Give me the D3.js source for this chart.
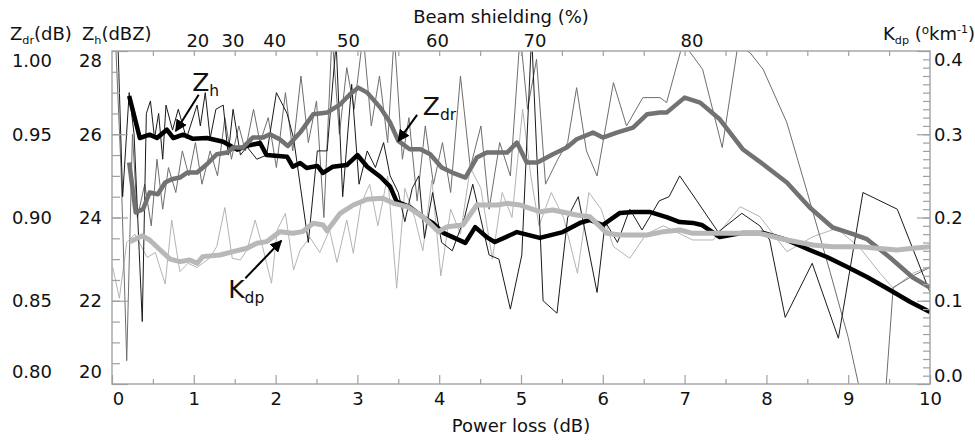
<!DOCTYPE html>
<html>
<head>
<meta charset="utf-8">
<script src="https://cdn.jsdelivr.net/npm/d3@7"></script>
<style>
  body { margin: 0; background: #fff; }
  text { font-family: "DejaVu Sans", sans-serif; fill: #111; }
</style>
</head>
<body>
<figure id="chart" style="margin:0"></figure>
<script>
// ---- data: [power loss (dB), value] ----
// smoothed curves
const zhSmooth = [[0.21,26.92],[0.34,25.91],[0.46,25.99],[0.55,25.91],[0.67,26.11],[0.75,25.91],[0.87,25.99],[0.99,25.89],
  [1.16,25.91],[1.36,25.82],[1.53,25.63],[1.65,25.72],[1.81,25.79],[1.89,25.50],[2.14,25.46],[2.21,25.22],[2.30,25.31],
  [2.38,25.19],[2.51,25.24],[2.58,25.07],[2.70,25.22],[2.87,25.26],[3.00,25.50],[3.12,25.22],[3.28,24.98],[3.40,24.74],
  [3.48,24.38],[3.64,24.25],[3.80,24.01],[3.92,23.87],[4.05,23.63],[4.32,23.39],[4.44,23.77],[4.58,23.53],[4.68,23.41],
  [4.95,23.65],[5.23,23.51],[5.51,23.65],[5.72,23.87],[5.84,23.94],[6.00,23.82],[6.21,24.11],[6.37,24.13],[6.58,24.13],
  [6.78,24.01],[6.94,23.89],[7.10,23.87],[7.21,23.82],[7.43,23.53],[7.71,23.63],[7.96,23.63],[8.25,23.46],[8.53,23.22],
  [8.74,23.05],[8.99,22.81],[9.23,22.57],[9.51,22.26],[9.76,21.97],[10.0,21.73]];

const zdrSmooth = [[0.21,0.933],[0.29,0.903],[0.38,0.905],[0.46,0.915],[0.56,0.914],[0.65,0.921],[0.73,0.923],[0.83,0.924],
  [0.92,0.927],[1.04,0.927],[1.16,0.932],[1.28,0.938],[1.41,0.939],[1.48,0.942],[1.60,0.942],[1.72,0.948],[1.85,0.948],
  [1.93,0.950],[2.05,0.947],[2.15,0.943],[2.30,0.951],[2.46,0.962],[2.63,0.963],[2.79,0.968],[2.91,0.974],[3.01,0.978],
  [3.12,0.975],[3.28,0.966],[3.40,0.957],[3.50,0.946],[3.64,0.941],[3.77,0.941],[3.89,0.938],[4.03,0.930],[4.16,0.927],
  [4.32,0.924],[4.46,0.936],[4.58,0.939],[4.83,0.939],[4.95,0.945],[5.07,0.933],[5.20,0.933],[5.39,0.938],[5.56,0.942],
  [5.68,0.947],[5.88,0.951],[6.00,0.948],[6.17,0.951],[6.37,0.954],[6.54,0.962],[6.70,0.963],[6.78,0.963],[7.00,0.972],
  [7.19,0.969],[7.43,0.959],[7.71,0.941],[7.96,0.932],[8.25,0.921],[8.53,0.906],[8.81,0.894],[9.06,0.890],[9.23,0.887],
  [9.51,0.876],[9.79,0.864],[10.0,0.858]];

const kdpSmooth = [[0.22,0.171],[0.37,0.178],[0.46,0.173],[0.59,0.161],[0.71,0.150],[0.83,0.147],[0.95,0.149],[1.04,0.145],
  [1.11,0.153],[1.32,0.155],[1.48,0.159],[1.65,0.163],[1.77,0.169],[1.89,0.171],[2.05,0.183],[2.21,0.181],[2.33,0.183],
  [2.46,0.193],[2.58,0.191],[2.63,0.184],[2.79,0.205],[2.95,0.215],[3.12,0.222],[3.31,0.223],[3.44,0.217],[3.61,0.213],
  [3.80,0.201],[3.99,0.183],[4.10,0.189],[4.29,0.191],[4.46,0.215],[4.71,0.215],[4.83,0.217],[4.99,0.215],[5.23,0.207],
  [5.39,0.209],[5.68,0.203],[5.84,0.201],[6.05,0.181],[6.21,0.179],[6.54,0.179],[6.74,0.183],[6.94,0.185],[7.10,0.181],
  [7.47,0.181],[7.92,0.181],[8.25,0.173],[8.57,0.167],[8.81,0.165],[9.14,0.165],[9.60,0.161],[9.79,0.163],[10.0,0.165]];

// raw (unsmoothed) curves
const zhRaw = [[0.06,29.0],[0.13,24.5],[0.21,27.0],[0.27,26.0],[0.37,21.5],[0.42,26.5],[0.47,26.8],[0.52,25.9],[0.57,26.5],
  [0.62,25.4],[0.66,26.7],[0.74,26.1],[0.81,26.6],[0.91,25.9],[1.04,26.7],[1.08,26.2],[1.14,27.0],[1.20,25.9],[1.27,26.6],
  [1.36,26.7],[1.42,25.5],[1.48,26.6],[1.57,25.5],[1.65,25.7],[1.77,25.4],[1.89,25.5],[2.01,27.0],[2.14,26.5],[2.22,25.9],
  [2.40,23.4],[2.51,25.6],[2.63,25.6],[2.74,28.2],[2.82,24.5],[2.93,27.2],[3.02,24.8],[3.12,25.6],[3.22,25.2],[3.32,25.8],
  [3.40,25.0],[3.50,24.6],[3.58,23.9],[3.67,24.7],[3.75,25.0],[3.82,23.5],[3.92,24.6],[4.03,23.4],[4.16,23.2],[4.31,24.0],
  [4.41,24.8],[4.61,23.1],[4.73,23.0],[4.87,21.8],[5.01,23.1],[5.13,28.4],[5.27,22.0],[5.44,21.7],[5.57,24.0],[5.70,24.5],
  [5.93,22.2],[6.03,23.9],[6.18,23.4],[6.33,24.2],[6.48,23.7],[6.69,24.4],[6.81,24.5],[6.94,25.0],[7.15,24.4],[7.41,23.65],
  [7.70,24.1],[7.92,23.8],[8.04,23.46],[8.23,21.6],[8.56,22.9],[8.88,21.1],[9.18,24.6],[9.60,24.2],[10.0,22.2]];

const zdrRaw = [[0.04,1.01],[0.11,0.93],[0.18,0.814],[0.25,0.95],[0.31,0.90],[0.40,0.92],[0.48,0.895],[0.55,0.935],
  [0.62,0.905],[0.69,0.93],[0.78,0.915],[0.86,0.94],[0.94,0.925],[1.02,0.945],[1.10,0.92],[1.20,0.94],[1.29,0.925],
  [1.38,0.96],[1.46,0.935],[1.55,0.955],[1.63,0.94],[1.73,0.965],[1.81,0.945],[1.91,0.96],[2.01,0.93],[2.12,0.975],
  [2.21,0.94],[2.31,0.985],[2.40,0.945],[2.50,0.97],[2.59,0.90],[2.69,1.01],[2.78,0.95],[2.87,0.99],[2.96,0.965],
  [3.07,1.01],[3.17,0.955],[3.27,0.985],[3.37,0.945],[3.45,1.01],[3.55,0.935],[3.63,0.96],[3.73,0.91],[3.83,0.955],
  [3.93,0.92],[4.04,0.945],[4.14,0.915],[4.26,0.985],[4.38,0.93],[4.51,0.955],[4.61,0.905],[4.74,0.945],[4.87,0.925],
  [4.99,1.01],[5.08,0.965],[5.19,0.995],[5.30,0.92],[5.45,0.935],[5.57,0.945],[5.68,0.978],[5.80,0.94],[5.93,0.925],
  [6.13,0.981],[6.29,0.955],[6.49,0.972],[6.70,0.972],[6.78,0.969],[6.98,1.005],[7.22,0.989],[7.46,0.942],[7.65,1.003],
  [7.80,0.999],[7.96,0.989],[8.25,0.957],[8.50,0.915],[8.78,0.867],[9.00,0.828],[9.17,0.79],[9.45,0.79],[9.55,0.858],
  [9.79,0.865],[10.0,0.870]];

const kdpRaw = [[0.01,0.14],[0.09,0.103],[0.18,0.17],[0.28,0.18],[0.43,0.152],[0.53,0.158],[0.65,0.12],[0.73,0.197],
  [0.83,0.135],[0.93,0.145],[1.04,0.14],[1.19,0.151],[1.28,0.165],[1.38,0.212],[1.47,0.151],[1.57,0.149],[1.65,0.161],
  [1.75,0.197],[1.84,0.165],[1.95,0.121],[2.02,0.185],[2.12,0.205],[2.22,0.137],[2.30,0.161],[2.42,0.176],[2.54,0.158],
  [2.66,0.185],[2.75,0.146],[2.87,0.197],[2.95,0.157],[3.04,0.215],[3.15,0.24],[3.25,0.19],[3.37,0.25],[3.48,0.115],
  [3.58,0.235],[3.70,0.20],[3.80,0.16],[3.91,0.245],[4.02,0.13],[4.14,0.21],[4.26,0.18],[4.38,0.26],[4.51,0.235],
  [4.65,0.15],[4.77,0.23],[4.89,0.2],[5.02,0.33],[5.12,0.25],[5.22,0.19],[5.37,0.23],[5.52,0.2],[5.69,0.133],[5.83,0.23],
  [5.98,0.21],[6.13,0.165],[6.33,0.151],[6.53,0.18],[6.74,0.19],[7.10,0.173],[7.35,0.173],[7.68,0.213],[7.92,0.201],
  [8.25,0.159],[8.57,0.177],[8.86,0.187],[9.14,0.164],[9.39,0.133],[9.55,0.115],[9.79,0.133],[10.0,0.141]];

// tick labels
const powerTicks = [0, 1, 2, 3, 4, 5, 6, 7, 8, 9, 10];
const zhTicks = [20, 22, 24, 26, 28];
const zdrTicks = [0.80, 0.85, 0.90, 0.95, 1.00];
const kdpTicks = [0.0, 0.1, 0.2, 0.3, 0.4];
const shieldLabels = [20, 30, 40, 50, 60, 70, 80];
const shieldPos = [1.05, 1.48, 1.99, 2.89, 3.98, 5.17, 7.09];   // power loss where each label sits

const width = 975, height = 440;
const margin = {top: 51, right: 45, bottom: 56, left: 112};
const x0 = margin.left, x1 = width - margin.right;
const y0 = height - margin.bottom, y1 = margin.top;

const svg = d3.select("#chart").append("svg")
  .attr("width", width)
  .attr("height", height);

const x = d3.scaleLinear().domain([0, 10]).range([x0, x1]);
const yZh = d3.scaleLinear().domain([20, 28]).range([y0, y1]);
const yZdr = d3.scaleLinear().domain([0.80, 1.00]).range([y0, y1]);
const yKdp = d3.scaleLinear().domain([0, 0.4]).range([y0, y1]);

svg.append("defs").append("clipPath").attr("id", "clip")
  .append("rect").attr("x", x0).attr("y", y1).attr("width", x1 - x0).attr("height", y0 - y1);

svg.select("defs").append("marker")
  .attr("id", "head")
  .attr("viewBox", "0 0 10 10")
  .attr("refX", 9).attr("refY", 5)
  .attr("markerWidth", 6).attr("markerHeight", 6)
  .attr("orient", "auto")
  .append("path").attr("d", "M0,0L10,5L0,10z").attr("fill", "#000");

const plot = svg.append("g").attr("clip-path", "url(#clip)");

function drawLine(data, y, color, w) {
  plot.append("path")
    .datum(data)
    .attr("fill", "none")
    .attr("stroke", color)
    .attr("stroke-width", w)
    .attr("stroke-linejoin", "round")
    .attr("d", d3.line().x(d => x(d[0])).y(d => y(d[1])));
}

// raw curves first, smoothed ones on top
drawLine(kdpRaw, yKdp, "#b4b4b4", 1);
drawLine(zdrRaw, yZdr, "#6e6e6e", 1);
drawLine(zhRaw, yZh, "#1a1a1a", 1);
drawLine(zhSmooth, yZh, "#000", 4.5);
drawLine(zdrSmooth, yZdr, "#727272", 4.5);
drawLine(kdpSmooth, yKdp, "#b8b8b8", 5);

// frame
svg.append("rect")
  .attr("x", x0).attr("y", y1)
  .attr("width", x1 - x0).attr("height", y0 - y1)
  .attr("fill", "none").attr("stroke", "#a8a8a8").attr("stroke-width", 1.5);

function styleAxis(g) {
  g.select(".domain").remove();
  g.attr("font-family", null).attr("font-size", 18);
  g.selectAll("line").attr("stroke", "#a0a0a0").attr("stroke-width", 1.2);
  g.selectAll("text").attr("fill", "#111");
}

// bottom axis
svg.append("g").attr("transform", `translate(0,${y0})`)
  .call(d3.axisBottom(x).tickValues(d3.range(0.5, 10, 1)).tickSizeInner(-5).tickSizeOuter(0).tickFormat(""))
  .call(styleAxis);
svg.append("g").attr("transform", `translate(0,${y0})`)
  .call(d3.axisBottom(x).tickValues(powerTicks).tickSizeInner(-9).tickSizeOuter(0).tickPadding(8).tickFormat(d3.format("d")))
  .call(styleAxis)
  .selectAll("text").attr("x", d => d === 0 ? 6 : 0);

// top axis (ticks only), beam shielding labels
svg.append("g").attr("transform", `translate(0,${y1})`)
  .call(d3.axisTop(x).tickValues(d3.range(0.5, 10, 0.5)).tickSizeInner(-5).tickSizeOuter(0).tickFormat(""))
  .call(styleAxis);
svg.append("g").selectAll("text")
  .data(shieldLabels)
  .join("text")
  .attr("x", (d, i) => x(shieldPos[i]))
  .attr("y", 47)
  .attr("text-anchor", "middle")
  .attr("font-size", 18)
  .text(d => d);

// left axes
svg.append("g").attr("transform", `translate(${x0},0)`)
  .call(d3.axisLeft(yZh).tickValues(d3.range(20.5, 28, 0.5)).tickSizeInner(-8).tickSizeOuter(0).tickFormat(""))
  .call(styleAxis);
svg.append("g").attr("transform", `translate(${x0},0)`)
  .call(d3.axisLeft(yZh).tickValues(zhTicks).tickSizeInner(-16).tickSizeOuter(0).tickPadding(10).tickFormat(d3.format("d")))
  .call(styleAxis)
  .selectAll("text").attr("y", d => d === 28 ? 10 : d === 20 ? -12 : 0);
svg.append("g").attr("transform", "translate(52,0)")
  .call(d3.axisLeft(yZdr).tickValues(zdrTicks).tickSize(0).tickPadding(0).tickFormat(d3.format(".2f")))
  .call(styleAxis)
  .selectAll("text").attr("y", d => d === 1.00 ? 10 : d === 0.80 ? -12 : 0);

// right axis
svg.append("g").attr("transform", `translate(${x1},0)`)
  .call(d3.axisRight(yKdp).tickValues(d3.range(1, 40).map(i => i / 100)).tickSizeInner(-7).tickSizeOuter(0).tickFormat(""))
  .call(styleAxis);
svg.append("g").attr("transform", `translate(${x1},0)`)
  .call(d3.axisRight(yKdp).tickValues(kdpTicks).tickSizeInner(-13).tickSizeOuter(0).tickPadding(4).tickFormat(d3.format(".1f")))
  .call(styleAxis)
  .selectAll("text").attr("y", d => d === 0.4 ? 9 : d === 0 ? -8 : 0);

// titles
svg.append("text").attr("x", 501).attr("y", 23).attr("text-anchor", "middle")
  .attr("font-size", 18).text("Beam shielding (%)");
svg.append("text").attr("x", 521).attr("y", 432).attr("text-anchor", "middle")
  .attr("font-size", 18).text("Power loss (dB)");

function subLabel(px, py, main, sub, size, tail) {
  const t = svg.append("text").attr("x", px).attr("y", py).attr("font-size", size);
  t.append("tspan").text(main);
  t.append("tspan").attr("font-size", size * 0.62).attr("dy", size * 0.2).text(sub);
  if (tail) t.append("tspan").attr("dy", -size * 0.2).text(tail);
  return t;
}

subLabel(10, 40, "Z", "dr", 18, "(dB)");
subLabel(82, 40, "Z", "h", 18, "(dBZ)");
const kh = subLabel(883, 40, "K", "dp", 18, " (");
kh.append("tspan").attr("font-size", 12).attr("dy", -6).text("o");
kh.append("tspan").attr("dy", 6).text("km");
kh.append("tspan").attr("font-size", 11).attr("dy", -7).text("-1");
kh.append("tspan").attr("dy", 7).text(")");

// curve annotations with arrows
function arrow(a, b) {
  svg.append("line")
    .attr("x1", a[0]).attr("y1", a[1])
    .attr("x2", b[0]).attr("y2", b[1])
    .attr("stroke", "#000").attr("stroke-width", 2)
    .attr("marker-end", "url(#head)");
}

subLabel(x(0.98), yZh(27.05), "Z", "h", 25);
arrow([x(1.06), yZh(26.95)], [x(0.78), yZh(26.08)]);

subLabel(x(3.80), yZdr(0.9616), "Z", "dr", 25);
arrow([x(3.73), yZdr(0.9616)], [x(3.50), yZdr(0.946)]);

subLabel(x(1.42), yKdp(0.103), "K", "dp", 25);
arrow([x(1.63), yKdp(0.127)], [x(2.07), yKdp(0.172)]);
</script>
</body>
</html>
